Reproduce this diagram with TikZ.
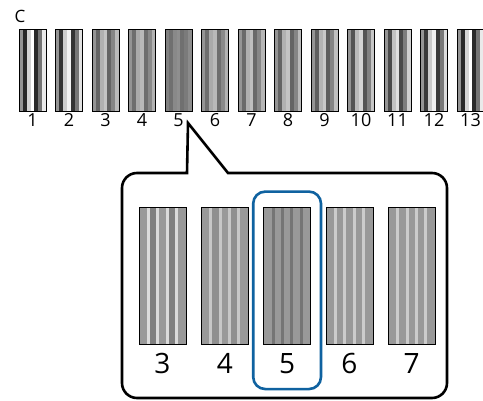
\documentclass[tikz,border=0pt]{standalone}
\usepackage{fontspec}
\setmainfont{Open Sans}
\usetikzlibrary{positioning,fit}
\definecolor{pickblue}{HTML}{0F62A0}

\tikzset{
  patch/.style={draw, line width=0.8pt, inner sep=0pt, minimum width=27pt, minimum height=82pt,
    path picture={
      \foreach \v [count=\k from 0] in {0,-1,0.6,1,-1,-0.3,0.8}{
        \pgfmathsetmacro\g{max(0,min(100,\pbase-\pbase*\pc*\v))}
        \fill[black!\g] ([xshift=\k*27/7 pt]path picture bounding box.north west) rectangle ++(27/7 pt,-82pt);
      }}},
  bigpatch/.style={draw, line width=0.8pt, inner sep=0pt, minimum width=47pt, minimum height=137pt, fill=black!40,
    path picture={
      \foreach \k in {1,3}
        \fill[black!\qband] ([xshift=\k*9.4pt]path picture bounding box.north west) rectangle ++(9.4pt,-137pt);
      \foreach \k in {1,...,4}
        \fill[black!\qline] ([xshift=\k*9.4pt-1.5pt]path picture bounding box.north west) rectangle ++(3pt,-137pt);
      }},
  numlab/.style={inner sep=0pt, font=\fontsize{18}{18}\selectfont},
  biglab/.style={inner sep=0pt, font=\fontsize{28}{28}\selectfont},
  callout/.style={line width=2.6pt, line join=miter},
  pick/.style={draw=pickblue, line width=2.6pt, rounded corners=12pt, inner xsep=10pt, inner ysep=15pt}
}

\begin{document}
\begin{tikzpicture}[x=1pt, y=-1pt]
\useasboundingbox[fill=white] (0,0) rectangle (483,401);

\node[inner sep=0pt, font=\fontsize{17}{17}\selectfont] (head) at (20,16) {C};

% printed row
\foreach \n/\c in {1/1,2/0.9,3/0.45,4/0.35,5/0.12,6/0.35,7/0.4,8/0.45,9/0.5,10/0.6,11/0.7,12/0.85,13/1}{
  \pgfmathsetmacro\pbase{\n==5 ? 50 : 42}
  \def\pc{\c}
  \node[patch] (p\n) at ({32.5+(\n-1)*36.5},70) {};
  \node[numlab, below=2pt of p\n] (l\n) {\n};
}

% close-up
\foreach \n/\b/\l [count=\i from 0] in {3/50/14,4/44/22,5/40/54,6/40/20,7/40/20}{
  \def\qband{\b}
  \def\qline{\l}
  \node[bigpatch] (q\n) at ({162.5+\i*62.3},275.5) {};
  \node[biglab, below=9pt of q\n] (m\n) {\n};
}

\node[pick, fit=(q5)(m5)] (sel) {};

\coordinate (tip) at (188,123);
\draw[callout] (tip) -- (187,173) [rounded corners=15pt] -- (122,173) -- (122,398) -- (447,398) -- (447,173) [sharp corners] -- (228,173) -- cycle;
\end{tikzpicture}
\end{document}
